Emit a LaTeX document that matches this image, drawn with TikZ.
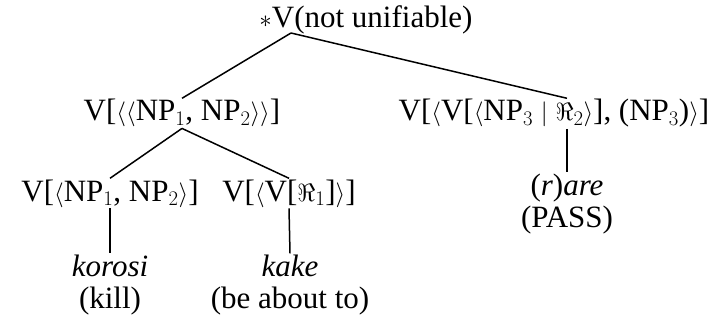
\documentclass[tikz,border=0pt]{standalone}
\usepackage{fontspec}
\setmainfont{Liberation Serif}
\begin{document}
\begin{tikzpicture}[x=1pt,y=-1pt,
  lbl/.style={inner sep=1pt,anchor=base,font=\fontsize{31}{36}\selectfont},
  edge/.style={line width=1.5pt}]
\useasboundingbox (0,0) rectangle (720,334);
% root
\node[lbl] (root) at (366,28) {$\ast$V(not unifiable)};
\coordinate (top) at (291,33);
% first level
\node[lbl] (nps) at (182,121) {V[$\langle\langle$NP$_1$, NP$_2\rangle\rangle$]};
\node[lbl] (pass) at (554,121) {V[$\langle$V[$\langle$NP$_3$ $\mid$ $\Re_2\rangle$], (NP$_3$)$\rangle$]};
% second level
\node[lbl] (np12) at (110,201) {V[$\langle$NP$_1$, NP$_2\rangle$]};
\node[lbl] (vr1) at (289,201) {V[$\langle$V[$\Re_1$]$\rangle$]};
% leaves
\node[lbl] (korosi) at (110,276) {\itshape korosi};
\node[lbl] (kill) at (110,308) {(kill)};
\node[lbl] (kake) at (290,276) {\itshape kake};
\node[lbl] (about) at (290,308) {(be about to)};
\node[lbl] (rare) at (567,195) {(\textit{r})\textit{are}};
\node[lbl] (passg) at (567,227) {(PASS)};
% branches
\draw[edge] (top) -- (nps.north);
\draw[edge] (top) -- (pass.north -| rare.north);
\draw[edge] (nps.south) -- (np12.north);
\draw[edge] (nps.south) -- (vr1.north);
\draw[edge] (np12.south) -- (korosi.north);
\draw[edge] (vr1.south) -- (kake.north);
\draw[edge] (pass.south -| rare.north) -- (rare.north);
\end{tikzpicture}
\end{document}
